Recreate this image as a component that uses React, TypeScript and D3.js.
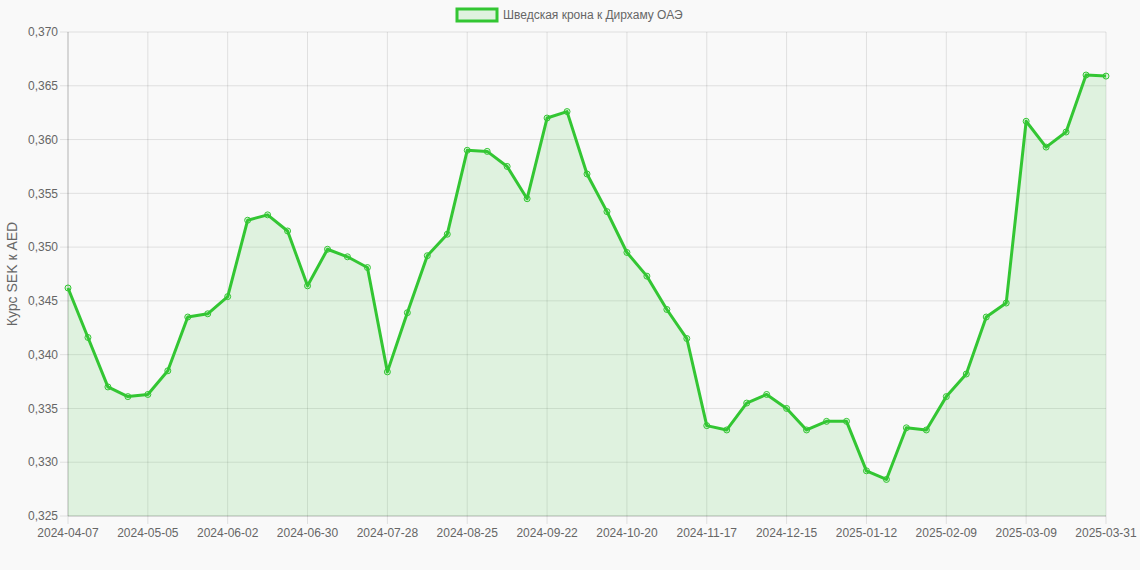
import React from "react";
import * as d3 from "d3";

const dates: string[] = [
  "2024-04-07","2024-04-14","2024-04-21","2024-04-28","2024-05-05","2024-05-12","2024-05-19","2024-05-26",
  "2024-06-02","2024-06-09","2024-06-16","2024-06-23","2024-06-30","2024-07-07","2024-07-14","2024-07-21",
  "2024-07-28","2024-08-04","2024-08-11","2024-08-18","2024-08-25","2024-09-01","2024-09-08","2024-09-15",
  "2024-09-22","2024-09-29","2024-10-06","2024-10-13","2024-10-20","2024-10-27","2024-11-03","2024-11-10",
  "2024-11-17","2024-11-24","2024-12-01","2024-12-08","2024-12-15","2024-12-22","2024-12-29","2025-01-05",
  "2025-01-12","2025-01-19","2025-01-26","2025-02-02","2025-02-09","2025-02-16","2025-02-23","2025-03-02",
  "2025-03-09","2025-03-16","2025-03-23","2025-03-30","2025-03-31"
];

const rates: number[] = [
  0.3462, 0.3416, 0.3370, 0.3361, 0.3363, 0.3385, 0.3435, 0.3438,
  0.3454, 0.3525, 0.3530, 0.3515, 0.3464, 0.3498, 0.3491, 0.3481,
  0.3384, 0.3439, 0.3492, 0.3512, 0.3590, 0.3589, 0.3575, 0.3545,
  0.3620, 0.3626, 0.3568, 0.3533, 0.3495, 0.3473, 0.3442, 0.3415,
  0.3334, 0.3330, 0.3355, 0.3363, 0.3350, 0.3330, 0.3338, 0.3338,
  0.3292, 0.3284, 0.3332, 0.3330, 0.3361, 0.3382, 0.3435, 0.3448,
  0.3617, 0.3593, 0.3607, 0.3660, 0.3659
];

const yTicks: number[] = [0.325, 0.33, 0.335, 0.34, 0.345, 0.35, 0.355, 0.36, 0.365, 0.37];
const seriesLabel = "Шведская крона к Дирхаму ОАЭ";
const yTitle = "Курс SEK к AED";

const W = 1140, H = 570;
const left = 68, right = 1106, top = 32, bottom = 516;
const FONT = "'Liberation Sans', Arial, Helvetica, sans-serif";
const LINE = "#33c633";
const FILL = "rgba(51,198,51,0.13)";

export default function App() {
  const x = d3.scalePoint<number>().domain(d3.range(dates.length)).range([left, right]);
  const y = d3.scaleLinear().domain([0.325, 0.37]).range([bottom, top]);
  const labeled = dates.map((_, i) => i).filter((i) => i % 4 === 0 || i === dates.length - 1);
  const line = d3.line<number>().x((_, i) => x(i)!).y((d) => y(d));
  const area = d3.area<number>().x((_, i) => x(i)!).y0(bottom).y1((d) => y(d));
  const fmt = (v: number) => v.toFixed(3).replace(".", ",");

  return (
    <svg width={W} height={H} style={{ position: "absolute", left: 0, top: 0, background: "#f9f9f9" }}>
      <rect x={0} y={0} width={W} height={H} fill="#f9f9f9" />
      {yTicks.map((t) => (
        <g key={"y" + t}>
          <line x1={left - 8} x2={right} y1={y(t)} y2={y(t)} stroke="rgba(0,0,0,0.1)" />
          <text x={left - 10} y={y(t)} dy="0.35em" textAnchor="end" fontSize={12} fill="#666" fontFamily={FONT}>
            {fmt(t)}
          </text>
        </g>
      ))}
      {labeled.map((i) => (
        <g key={"x" + i}>
          <line x1={x(i)} x2={x(i)} y1={top} y2={bottom + 8} stroke="rgba(0,0,0,0.1)" />
          <text x={x(i)} y={bottom + 21} textAnchor="middle" fontSize={12} fill="#666" fontFamily={FONT}>
            {dates[i]}
          </text>
        </g>
      ))}
      <line x1={left} x2={left} y1={top} y2={bottom} stroke="rgba(0,0,0,0.18)" />
      <line x1={left} x2={right} y1={bottom} y2={bottom} stroke="rgba(0,0,0,0.18)" />
      <path d={area(rates)!} fill={FILL} />
      <path d={line(rates)!} fill="none" stroke={LINE} strokeWidth={3} strokeLinejoin="round" />
      {rates.map((v, i) => (
        <circle key={i} cx={x(i)} cy={y(v)} r={3} fill={FILL} stroke={LINE} strokeWidth={1} />
      ))}
      <text
        transform={`translate(17,${(top + bottom) / 2}) rotate(-90)`}
        textAnchor="middle"
        fontSize={14}
        fill="#666"
        fontFamily={FONT}
      >
        {yTitle}
      </text>
      <rect x={457} y={9} width={40} height={12} fill={FILL} stroke={LINE} strokeWidth={3} />
      <text x={503} y={15} dy="0.35em" fontSize={12} fill="#666" fontFamily={FONT}>
        {seriesLabel}
      </text>
    </svg>
  );
}
